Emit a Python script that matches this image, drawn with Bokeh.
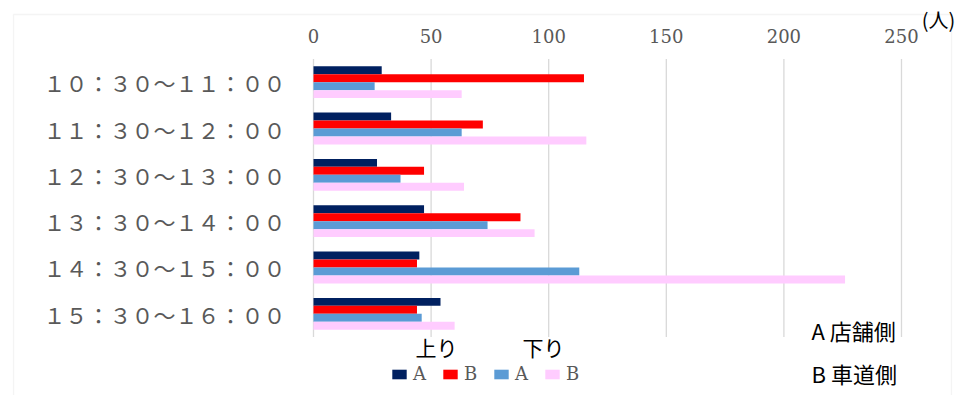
from bokeh.plotting import figure
from bokeh.models import (ColumnDataSource, FactorRange, Range1d, Label, Legend,
                          LegendItem, BoxAnnotation, FixedTicker, LinearAxis, CategoricalAxis)
from bokeh.transform import dodge
from bokeh.embed import file_html
from bokeh.resources import INLINE

# ---------------- data ----------------
times = ["１０：３０～１１：００", "１１：３０～１２：００", "１２：３０～１３：００",
         "１３：３０～１４：００", "１４：３０～１５：００", "１５：３０～１６：００"]
up_a = [29, 33, 27, 47, 45, 54]
up_b = [115, 72, 47, 88, 44, 44]
down_a = [26, 63, 37, 74, 113, 46]
down_b = [63, 116, 64, 94, 226, 60]
x_ticks = [0, 50, 100, 150, 200, 250]
series_labels = ["A", "B", "A", "B"]
group_labels = ["上り", "下り"]
note_labels = ["A 店舗側", "B 車道側"]
unit_label = "(人)"

colors = ["#002060", "#FF0000", "#5B9BD5", "#FFCCFF"]
fields = ["up_a", "up_b", "down_a", "down_b"]
offsets = [0.258, 0.086, -0.086, -0.258]
bar_h = 0.172

# ---------------- layout constants ----------------
W, H = 976, 395
PX_LEFT = 313.0          # pixel of value 0
PX_PER_UNIT = 2.352      # pixels per person
Y_PAD = 1.263            # category units above/below the plot area
X_LO = -PX_LEFT / PX_PER_UNIT
X_HI = (W - PX_LEFT) / PX_PER_UNIT

src = ColumnDataSource(dict(time=times, up_a=up_a, up_b=up_b,
                            down_a=down_a, down_b=down_b))

p = figure(width=W, height=H,
           y_range=FactorRange(factors=list(reversed(times)), range_padding=Y_PAD,
                               range_padding_units="absolute"),
           x_range=Range1d(X_LO, X_HI),
           x_axis_type=None, y_axis_type=None,
           output_backend="svg", toolbar_location=None,
           min_border=0, min_border_left=0, min_border_right=0,
           min_border_top=0, min_border_bottom=0)
p.outline_line_color = None
p.background_fill_color = "white"
p.border_fill_color = "white"
p.xgrid.grid_line_color = None
p.ygrid.grid_line_color = None

# vertical grid lines spanning the category area
n = len(times)
p.segment(x0=x_ticks, x1=x_ticks, y0=[0] * len(x_ticks), y1=[n] * len(x_ticks),
          line_color="#D9D9D9", line_width=1.3)

renderers = []
for f, c, off in zip(fields, colors, offsets):
    r = p.hbar(y=dodge("time", off, range=p.y_range), left=0, right=f,
               height=bar_h, source=src, fill_color=c, line_color=None)
    renderers.append(r)

# axes drawn inside the full-canvas frame
xaxis = LinearAxis(ticker=FixedTicker(ticks=x_ticks), fixed_location=n)
xaxis.axis_line_color = None
xaxis.major_tick_line_color = None
xaxis.minor_tick_line_color = None
xaxis.major_label_text_font = "DejaVu Serif"
xaxis.major_label_text_font_size = "18px"
xaxis.major_label_text_color = "#595959"
xaxis.major_label_standoff = 10
p.add_layout(xaxis, "above")

yaxis = CategoricalAxis(fixed_location=0)
yaxis.axis_line_color = None
yaxis.major_tick_line_color = None
yaxis.minor_tick_line_color = None
yaxis.major_label_text_font = "Noto Sans CJK JP"
yaxis.major_label_text_font_size = "22px"
yaxis.major_label_text_color = "#595959"
yaxis.major_label_standoff = 22
p.add_layout(yaxis, "left")

# outer chart border
def dx(px):
    return (px - PX_LEFT) / PX_PER_UNIT

def dy(py):
    return (H - py) / (H / (n + 2 * Y_PAD)) - Y_PAD

box = BoxAnnotation(left=dx(13), right=dx(951), top=dy(14), bottom=dy(430),
                    fill_alpha=0, line_color="#D9D9D9", line_width=1.3)
p.add_layout(box)

# legend
items = [LegendItem(label=series_labels[i], renderers=[renderers[i]]) for i in range(4)]
legend = Legend(items=items, orientation="horizontal", location=(390, 11),
                glyph_width=18, glyph_height=12, label_standoff=5,
                label_width=16, label_height=12, spacing=12, padding=0, margin=0,
                border_line_color=None, background_fill_alpha=0,
                label_text_font="DejaVu Serif", label_text_font_size="18px",
                label_text_color="#595959")
p.add_layout(legend)

# texts
def add_label(x, y, text, size, align="center"):
    p.add_layout(Label(x=x, y=y, text=text, text_font="Noto Sans CJK JP",
                       text_font_size=size, text_align=align,
                       text_baseline="middle", text_color="black"))

add_label(dx(436), dy(346), group_labels[0], "21px")
add_label(dx(543), dy(346), group_labels[1], "21px")
add_label(dx(811), dy(329), note_labels[0], "22px", "left")
add_label(dx(811), dy(372), note_labels[1], "22px", "left")
add_label(dx(938), dy(19), unit_label, "20px")

open("out.html", "w").write(file_html(p, INLINE))
